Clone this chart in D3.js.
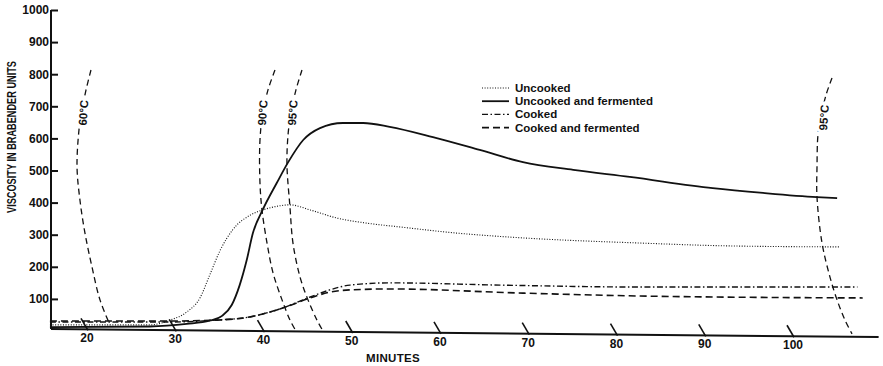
<!DOCTYPE html>
<html>
<head>
<meta charset="utf-8">
<script src="https://cdn.jsdelivr.net/npm/d3@7/dist/d3.min.js"></script>
<style>
  body { margin: 0; background: #fff; }
  text { font-family: 'Liberation Sans', Arial, sans-serif; font-weight: bold; fill: #111; }
</style>
</head>
<body>
<svg id="chart" width="883" height="366"></svg>
<script>
// [minutes, Brabender units]
const uncooked = [[15.8, 19], [27.1, 19], [29.4, 34], [31.3, 59], [32.8, 103], [33.9, 174], [35.1, 252],
  [36.5, 315], [38.5, 361], [39.9, 377], [41.1, 386], [43.0, 393], [45.3, 377], [48.3, 352], [51.7, 336],
  [55.5, 324], [61.9, 305], [69.4, 290], [82.7, 274], [92.9, 265], [105.3, 262]];
const uncookedFermented = [[15.8, 12], [27.1, 14], [31.3, 22], [33.9, 32], [35.3, 47], [36.4, 81],
  [37.3, 143], [38.1, 221], [38.8, 305], [39.9, 377], [41.5, 461], [42.8, 526], [44.5, 595], [46.4, 632],
  [49.0, 648], [51.3, 648], [54.3, 636], [59.2, 604], [64.5, 564], [69.4, 526], [75.1, 502], [81.5, 480],
  [90.9, 445], [96.6, 430], [102.7, 417], [105.0, 414]];
const cooked = [[15.8, 28], [29.4, 28], [34.7, 34], [38.5, 44], [42.2, 72], [45.3, 106], [47.5, 128],
  [49.8, 143], [54.3, 150], [66.8, 143], [82.7, 137], [107.3, 137]];
const cookedFermented = [[15.8, 31], [29.4, 31], [34.7, 34], [38.5, 44], [42.2, 72], [45.3, 103],
  [47.5, 121], [49.8, 128], [54.3, 131], [69.4, 118], [82.7, 109], [107.9, 103]];

// temperature arcs drawn by the recorder pen
const arc60 = [[20.45, 813], [19.89, 751], [19.43, 688], [19.09, 626], [18.87, 511], [19.2, 408],
  [19.77, 305], [20.57, 199], [21.47, 97], [22.6, 19]];
const arc90 = [[41.3, 813], [40.51, 751], [39.94, 682], [39.6, 595], [39.6, 461], [39.83, 377],
  [40.4, 274], [41.08, 181], [42.1, 97], [43.0, 34], [43.68, 0]];
const arc95a = [[44.36, 813], [43.68, 751], [43.12, 682], [42.78, 611], [42.66, 517], [43.0, 386],
  [43.34, 274], [44.14, 168], [45.04, 97], [46.06, 34], [46.74, 0]];
const arc95b = [[104.42, 788], [103.74, 735], [103.17, 667], [102.83, 611], [102.72, 511], [102.72, 417],
  [103.29, 274], [104.19, 168], [104.99, 97], [105.89, 34], [106.69, -9]];
const arcLabels = ['60°C', '90°C', '95°C', '95°C'];
const arcLabelAt = [[19.6, 680], [39.9, 680], [43.3, 680], [103.5, 665]];

const yTicks = [100, 200, 300, 400, 500, 600, 700, 800, 900, 1000];
const xTicks = [20, 30, 40, 50, 60, 70, 80, 90, 100];
const baseline = [[15.8, 6], [109.7, -19]];
const legendLabels = ['Uncooked', 'Uncooked and fermented', 'Cooked', 'Cooked and fermented'];

const svg = d3.select('#chart');
svg.append('rect').attr('width', 883).attr('height', 366).attr('fill', '#fff');

const x = d3.scaleLinear().domain([20, 100]).range([87, 793]);
const y = d3.scaleLinear().domain([0, 1000]).range([331, 10]);
const baseBU = d3.scaleLinear().domain([baseline[0][0], baseline[1][0]]).range([baseline[0][1], baseline[1][1]]);
const baseY = (m) => y(baseBU(m));

const styles = [
  { data: uncooked, width: 1.1, dash: '1,1.6' },
  { data: uncookedFermented, width: 1.8, dash: null },
  { data: cooked, width: 1.4, dash: '6,2.5,1.5,2.5' },
  { data: cookedFermented, width: 1.6, dash: '7,4' },
];

// y axis
const yAxis = d3.axisLeft(y).tickValues(yTicks).tickFormat(d3.format('d'))
  .tickSize(-7).tickPadding(2).tickSizeOuter(0);
const gy = svg.append('g').attr('transform', 'translate(51,0)').call(yAxis);
gy.select('.domain').remove();
gy.selectAll('.tick line').attr('stroke', '#111').attr('stroke-width', 2);
gy.selectAll('.tick text').attr('font-size', 12).attr('fill', '#111')
  .attr('font-family', "'Liberation Sans', Arial, sans-serif").attr('font-weight', 'bold');
svg.append('line')
  .attr('x1', 51).attr('x2', 51)
  .attr('y1', y(1000)).attr('y2', baseY(baseline[0][0]))
  .attr('stroke', '#111').attr('stroke-width', 2);

svg.append('text')
  .attr('transform', 'translate(16,137) rotate(-90)')
  .attr('text-anchor', 'middle')
  .attr('font-size', 12)
  .attr('textLength', 152)
  .attr('lengthAdjust', 'spacingAndGlyphs')
  .text('VISCOSITY IN BRABENDER UNITS');

// slanted time base
svg.append('line')
  .attr('x1', 51).attr('y1', baseY(baseline[0][0]))
  .attr('x2', x(baseline[1][0])).attr('y2', baseY(baseline[1][0]))
  .attr('stroke', '#111').attr('stroke-width', 2);

const gx = svg.append('g');
gx.selectAll('line')
  .data(xTicks)
  .join('line')
  .attr('x1', (d) => x(d) - 6).attr('y1', (d) => baseY(d) - 11)
  .attr('x2', (d) => x(d) + 1).attr('y2', (d) => baseY(d) + 1)
  .attr('stroke', '#111').attr('stroke-width', 1.6);
gx.selectAll('text')
  .data(xTicks)
  .join('text')
  .attr('x', (d) => x(d)).attr('y', (d) => baseY(d) + 13)
  .attr('text-anchor', 'middle')
  .attr('font-size', 12)
  .text((d) => d);

svg.append('text')
  .attr('x', 393).attr('y', 362)
  .attr('text-anchor', 'middle')
  .attr('font-size', 11.5)
  .attr('letter-spacing', 0.3)
  .text('MINUTES');

// temperature arcs
const arcLine = d3.line().x((d) => x(d[0])).y((d) => y(d[1])).curve(d3.curveCatmullRom);
svg.append('g')
  .selectAll('path')
  .data([arc60, arc90, arc95a, arc95b])
  .join('path')
  .attr('d', arcLine)
  .attr('fill', 'none')
  .attr('stroke', '#111')
  .attr('stroke-width', 1.3)
  .attr('stroke-dasharray', '6,4');

svg.append('g')
  .selectAll('text')
  .data(arcLabels)
  .join('text')
  .attr('transform', (d, i) => `translate(${x(arcLabelAt[i][0])},${y(arcLabelAt[i][1])}) rotate(-86)`)
  .attr('text-anchor', 'middle')
  .attr('dy', '0.35em')
  .attr('font-size', 11.5)
  .attr('stroke', '#fff')
  .attr('stroke-width', 6)
  .attr('paint-order', 'stroke')
  .text((d) => d);

// viscosity curves
const line = d3.line().x((d) => x(d[0])).y((d) => y(d[1])).curve(d3.curveMonotoneX);
svg.append('g')
  .selectAll('path')
  .data(styles)
  .join('path')
  .attr('d', (d) => line(d.data))
  .attr('fill', 'none')
  .attr('stroke', '#111')
  .attr('stroke-width', (d) => d.width)
  .attr('stroke-dasharray', (d) => d.dash);

// legend
const legend = svg.append('g').attr('transform', 'translate(482,88)');
const row = legend.selectAll('g')
  .data(styles)
  .join('g')
  .attr('transform', (d, i) => `translate(0,${i * 13.2})`);
row.append('line')
  .attr('x1', 0).attr('x2', 27)
  .attr('stroke', '#111')
  .attr('stroke-width', (d) => d.width)
  .attr('stroke-dasharray', (d) => d.dash);
row.append('text')
  .attr('x', 33).attr('dy', '0.35em')
  .attr('font-size', 11.5)
  .text((d, i) => legendLabels[i]);
</script>
</body>
</html>
